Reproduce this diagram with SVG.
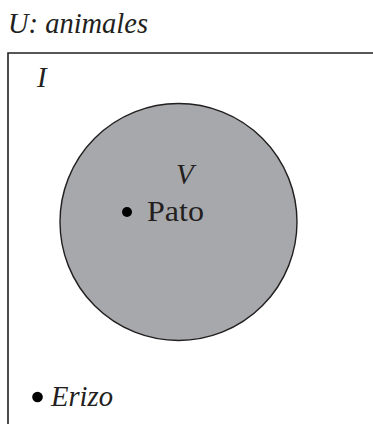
<svg xmlns="http://www.w3.org/2000/svg" width="373" height="424" viewBox="0 0 373 424">
<style>
.t{font-family:"Liberation Serif","DejaVu Serif",serif;font-size:29px;fill:#231f20}
.i{font-style:italic}
</style>
<rect width="373" height="424" fill="#ffffff"/>
<g id="universe">
<path d="M8,430 L8,53 L380,53" fill="none" stroke="#231f20" stroke-width="1.6"/>
<text class="t i" x="8" y="33" textLength="140" lengthAdjust="spacingAndGlyphs">U: animales</text>
<text class="t i" x="37" y="87">I</text>
</g>
<g id="setV">
<circle cx="178.5" cy="222" r="118.5" fill="#a7a8ab" stroke="#231f20" stroke-width="1.4"/>
<text class="t i" x="176" y="184">V</text>
</g>
<g id="pato">
<circle cx="127" cy="212" r="5" fill="#000"/>
<text class="t" x="147" y="221" textLength="57" lengthAdjust="spacingAndGlyphs">Pato</text>
</g>
<g id="erizo">
<circle cx="37.5" cy="397" r="5.3" fill="#000"/>
<text class="t i" x="51" y="406" textLength="62" lengthAdjust="spacingAndGlyphs">Erizo</text>
</g>
<g id="connectors"></g>
</svg>
